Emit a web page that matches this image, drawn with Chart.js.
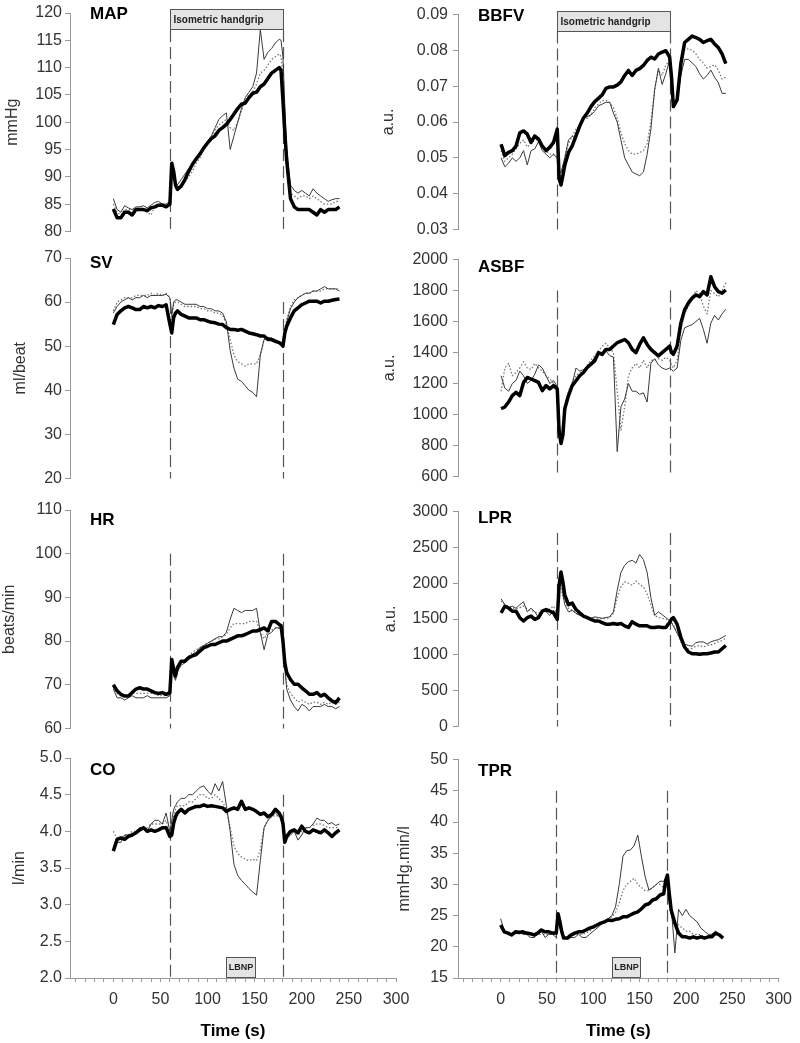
<!DOCTYPE html>
<html>
<head>
<meta charset="utf-8">
<script src="https://cdn.jsdelivr.net/npm/chart.js@4.4.1/dist/chart.umd.min.js"></script>
<style>
  html, body { margin: 0; padding: 0; background: #fff; }
  #wrap { position: relative; width: 800px; height: 1043px; overflow: hidden; }
  canvas { position: absolute; }
</style>
</head>
<body>
<div id="wrap"></div>
<script>
// time (s) of each sample
const time = [0,4,8,12,16,20,24,28,32,36,40,44,48,52,56,
  60,62,64,66,68,
  72,76,80,84,88,92,96,100,104,108,112,116,
  120,124,128,132,136,140,144,148,152,156,160,164,168,172,176,
  178,180,182,184,
  188,192,196,200,204,208,212,216,220,224,228,232,236,240];

const xLabels = [0, 50, 100, 150, 200, 250, 300];
const handgrip = [60, 180];
const lbnp = [120, 150];

// MAP (mmHg)
const mapBold = [84.1,82.5,82.5,83.5,83.5,83,84,84,84,83.8,84.3,84.5,84.8,84.8,84.5,
  85,92.5,91,88.5,87.7,
  88.3,89.5,91,92.3,93.3,94.2,95.3,96.2,97,97.5,98.5,99,
  99.6,100.5,101.5,102.5,103.3,103.5,104.5,105.3,105.5,106.5,107,108,109,109.5,110,
  109.5,104,98,93,
  86,84.5,84,84,84,84,83.5,83,84,83.5,84,84,84,84.5];
const mapThin = [86,84,83.5,84.7,84.3,84,84.5,84.5,84.7,84.3,84.8,85.3,85.5,85,85,
  85.5,92,91.5,89,88.5,
  89.5,90.5,91.5,92.5,93.5,94.5,95.5,96.5,97.5,99,100.5,101.2,
  101.7,95,97.5,100,102.5,104.5,105.5,106.5,109,117,111.5,112.8,113.5,114.5,115.2,
  115,112,103,95,
  88.5,87.5,87,87.5,87,86.5,87.8,87,86.5,86,85.5,85.8,86,86];
const mapDot = [85,83.5,83,84,84,84,84,84,84,83.5,83,84.5,85,85,84.5,
  85,91,90,88,87.5,
  88,89,90,91,92.5,93.5,95,96,97,98.5,99.5,100,
  100.5,99,98.5,100,102,104,105,105.5,107,109,109.5,110.5,111.5,112,112.5,
  112,108,100,93,
  87,86.5,86,86.5,86.5,86,86.5,86,85.5,85,85,85,85.5,85.5];

// SV (ml/beat)
const svBold = [54.9,57.2,58,58.7,59,58.7,58.3,58.3,59,58.7,59,58.7,59.2,59,59.4,
  55,53,56.5,57.5,58,
  57.2,56.8,56.4,56.4,56.4,56,56,55.7,55.4,55.3,55,54.9,
  54.2,53.8,53.8,53.6,53.8,53.4,53,52.8,52.6,52.3,52.3,51.5,51.5,51.1,50.8,
  50.5,50,53,54.5,
  56.4,58,58.7,59.4,59.8,60.2,60.2,60.2,59.8,60.2,60.2,60.4,60.6,60.7];
const svThin = [57.5,59,60,60.5,61,60.5,61,61,61.5,61,61.5,61.5,61.5,61.5,61.8,
  61,57,60,60.5,60.5,
  60,59.5,59.5,59.5,59.5,59,59,58.5,58.5,58,58,57.5,
  55.5,49,45,42.5,42,41,40,39.5,38.5,48,51.5,52,51.8,51.5,51,
  50.8,50.5,53.5,55.5,
  58.5,60,61,61.5,62,62,62.5,62.5,63,63.5,63,63,63,62.5];
const svDot = [58,60,60.5,61,61,61,61.5,61.5,61.5,61.5,62,61.5,62,61.5,62,
  61,56,59.5,60,60,
  59.5,59,59,59,59,58.5,58.5,58,58,57.5,57.5,57,
  55,51.5,48,46.5,46,45.5,46,46,46,48,51.5,52,51.8,51.3,51,
  50.8,50.5,54,56,
  59,60.5,61,61.5,62,62,62.5,62.5,62.5,63,63,63,63,63];

// HR (beats/min)
const hrBold = [70,68.6,67.8,67.4,67.4,68.2,69,69.3,69,69,68.6,68.2,68,68.2,67.8,
  68.2,75.8,73.5,72,73.9,
  75.4,75.4,76.2,76.6,76.9,77.7,78.5,78.8,79.2,79.2,79.6,80,
  80,80.4,80.8,81.2,81.2,81.5,81.9,82.3,82.3,82.6,83,82.3,84.5,84.5,83.8,
  83.5,80,75,72.8,
  71.2,70.1,70.1,69.3,68.6,67.8,67.8,68.2,67.4,67.8,67,66.3,65.9,67];
const hrThin = [69,67,67,66.5,67,67.5,67,67,67,67.5,67,67,67,67,67,
  67.5,74,72,71,73,
  74.5,75,76,77,77.5,78.5,79,79.5,80,80.5,81,81,
  82,85,87.5,87,86.5,87,87,87,87.5,82,78,81.5,82,83,83,
  82.5,81.5,74,69,
  66.5,65,64,65.5,65,64,65,65,65,65.5,65,65,64.5,65];
const hrDot = [69.5,68,67.5,67.5,67.5,68,68,68,68,68,68,68,67.5,67.5,67.5,
  67.5,74.5,72.5,71.5,73.5,
  75,75.5,76.5,77.5,78,78.5,79,79.5,80,80.5,80.5,81,
  81.5,83,84,84,84,84,84.5,84.5,84.5,82,80.5,82,82.5,83,83,
  82.5,81,74,70,
  68,67,66,66.5,66,65.5,66,66,65.5,66,65.5,66,65.5,66];

// CO (l/min)
const coBold = [3.73,3.89,3.91,3.89,3.93,3.95,3.98,4.02,4.05,4.0,4.02,4.0,4.02,4.05,4.05,
  3.93,3.95,4.11,4.2,4.25,
  4.3,4.25,4.3,4.32,4.34,4.34,4.36,4.34,4.35,4.34,4.33,4.32,
  4.27,4.3,4.32,4.3,4.41,4.3,4.32,4.3,4.27,4.23,4.25,4.2,4.23,4.3,4.25,
  4.2,4.11,3.85,3.93,
  4.0,4.02,3.98,4.07,4.0,3.98,4.02,4.0,3.98,4.02,3.98,3.93,3.98,4.02];
const coThin = [3.8,3.85,3.85,3.95,3.95,3.95,4.0,4.05,4.05,4.0,4.1,4.15,4.15,4.1,4.25,
  4.0,4.15,4.3,4.35,4.4,
  4.45,4.45,4.5,4.5,4.55,4.6,4.62,4.55,4.5,4.65,4.55,4.68,
  4.35,4.0,3.55,3.4,3.33,3.28,3.22,3.17,3.13,3.6,4.05,4.15,4.2,4.25,4.2,
  4.2,4.15,3.9,3.9,
  3.95,4.0,3.88,3.95,4.05,4.05,4.1,4.18,4.15,4.15,4.1,4.12,4.08,4.1];
const coDot = [4.0,3.9,3.9,3.95,3.95,4.0,4.0,4.05,4.05,4.05,4.1,4.1,4.1,4.1,4.15,
  4.0,4.1,4.2,4.3,4.35,
  4.35,4.35,4.4,4.4,4.45,4.5,4.5,4.45,4.45,4.5,4.45,4.4,
  4.3,4.05,3.8,3.7,3.65,3.62,3.6,3.62,3.6,3.75,4.05,4.15,4.2,4.22,4.2,
  4.2,4.12,3.9,3.92,
  3.98,4.0,3.95,4.0,4.05,4.05,4.08,4.1,4.1,4.08,4.05,4.05,4.05,4.05];

// BBFV (a.u.)
const bbfvBold = [0.0538,0.0506,0.0515,0.052,0.0533,0.057,0.0575,0.0566,0.0543,0.0561,0.0552,0.0533,0.052,0.0529,0.0543,
  0.058,0.0442,0.0424,0.045,0.0479,
  0.0515,0.0533,0.0561,0.0589,0.0611,0.0625,0.0643,0.0657,0.0666,0.0676,0.0694,0.0698,
  0.0698,0.0703,0.0712,0.073,0.0744,0.073,0.0744,0.0749,0.0758,0.0772,0.0781,0.0776,0.079,0.0795,0.0799,
  0.079,0.0781,0.0726,0.0643,
  0.0662,0.0763,0.0822,0.0831,0.084,0.0836,0.0831,0.0822,0.0827,0.0831,0.0818,0.0808,0.079,0.0763];
const bbfvThin = [0.050,0.0475,0.0485,0.050,0.049,0.050,0.052,0.048,0.052,0.0525,0.0545,0.052,0.051,0.050,0.051,
  0.050,0.046,0.046,0.048,0.050,
  0.055,0.056,0.0555,0.058,0.061,0.0615,0.062,0.063,0.0645,0.065,0.0655,0.0655,
  0.0625,0.060,0.055,0.050,0.048,0.046,0.0455,0.045,0.046,0.051,0.058,0.069,0.075,0.0705,0.0735,
  0.0755,0.077,0.071,0.065,
  0.066,0.073,0.0775,0.0775,0.0765,0.0755,0.0735,0.072,0.073,0.0745,0.0725,0.071,0.068,0.068];
const bbfvDot = [0.052,0.049,0.050,0.051,0.0525,0.054,0.055,0.053,0.054,0.055,0.055,0.053,0.052,0.051,0.051,
  0.050,0.045,0.045,0.047,0.050,
  0.054,0.056,0.058,0.059,0.061,0.061,0.062,0.064,0.065,0.066,0.066,0.0655,
  0.064,0.061,0.057,0.054,0.052,0.051,0.051,0.0515,0.052,0.054,0.060,0.069,0.0745,0.073,0.076,
  0.0765,0.077,0.070,0.064,
  0.067,0.075,0.080,0.0805,0.080,0.079,0.0775,0.0765,0.075,0.0755,0.076,0.0745,0.072,0.0725];

// ASBF (a.u.)
const asbfBold = [1037,1048,1080,1122,1143,1122,1207,1239,1229,1218,1207,1154,1186,1165,1186,
  1165,888,813,866,1037,
  1122,1186,1218,1250,1271,1303,1325,1346,1399,1388,1420,1420,
  1442,1463,1474,1484,1463,1420,1399,1452,1495,1452,1420,1399,1378,1399,1420,
  1430,1442,1400,1388,
  1442,1591,1676,1719,1751,1772,1761,1793,1772,1889,1825,1793,1783,1804];
const asbfThin = [1250,1170,1150,1200,1220,1280,1250,1200,1220,1260,1320,1300,1250,1200,1220,
  1180,950,850,900,1000,
  1120,1200,1300,1280,1290,1300,1330,1370,1390,1400,1410,1380,
  1370,760,1050,1100,1200,1150,1150,1130,1140,1080,1330,1360,1320,1300,1290,
  1295,1300,1290,1280,
  1300,1480,1560,1570,1580,1600,1620,1550,1460,1590,1640,1610,1650,1680];
const asbfDot = [1150,1300,1330,1250,1270,1300,1340,1300,1290,1330,1300,1280,1250,1230,1200,
  1170,900,830,950,1050,
  1150,1210,1250,1270,1280,1320,1350,1380,1410,1440,1460,1430,
  1400,1150,900,1050,1250,1300,1330,1300,1350,1300,1350,1350,1360,1350,1370,
  1360,1350,1320,1300,
  1350,1550,1650,1700,1750,1800,1780,1700,1650,1800,1780,1760,1800,1850];

// LPR (a.u.)
const lprBold = [1586,1678,1655,1609,1609,1518,1472,1518,1541,1495,1518,1609,1632,1609,1586,
  1495,1974,2156,2020,1837,
  1700,1723,1632,1586,1541,1518,1495,1472,1472,1450,1427,1427,
  1436,1427,1436,1404,1381,1463,1427,1404,1404,1404,1381,1381,1390,1381,1381,
  1420,1450,1500,1518,
  1427,1244,1108,1039,1016,1016,1007,1016,1016,1025,1039,1039,1085,1130];
const lprThin = [1780,1700,1650,1680,1650,1700,1740,1600,1650,1600,1520,1620,1600,1550,1620,
  1550,1900,2100,1850,1700,
  1600,1620,1580,1550,1540,1520,1510,1530,1520,1510,1520,1530,
  1600,1900,2150,2250,2300,2320,2280,2400,2330,2150,1800,1550,1600,1560,1520,
  1500,1470,1450,1400,
  1300,1200,1150,1130,1120,1170,1180,1180,1150,1180,1200,1210,1240,1270];
const lprDot = [1750,1700,1680,1660,1640,1660,1680,1640,1620,1600,1580,1600,1620,1640,1680,
  1560,2000,1950,1800,1750,
  1650,1620,1580,1550,1530,1520,1510,1520,1510,1500,1510,1520,
  1580,1800,1950,2020,2000,1970,2030,1980,1950,1850,1700,1550,1520,1510,1500,
  1490,1470,1450,1420,
  1320,1180,1100,1080,1090,1120,1130,1110,1130,1140,1160,1180,1200,1230];

// TPR (mmHg.min/l)
const tprBold = [23.5,22.4,22.2,21.9,22.4,22.3,22.4,22.2,22.1,21.9,22.2,22.7,22.4,22.4,22.2,
  22.2,25.3,24,22.4,21.4,
  21.4,21.9,22.2,22.4,22.4,22.7,23,23.2,23.5,23.8,24,24.3,
  24.2,24.4,24.5,24.8,24.8,25.1,25.4,25.6,26.1,26.7,26.9,27.5,27.7,28.3,28.5,
  30.6,31.5,28.5,25.9,
  23.8,22.2,21.6,21.6,21.4,21.6,21.4,21.6,21.4,21.6,21.6,22.2,21.9,21.4];
const tprThin = [24.5,22.5,22,22,22.5,22.5,22,22,21.5,21.5,22,22.5,21.5,22,22,
  21.5,24.5,23,22,21.5,
  21.2,21.5,21.5,22,21.5,21.5,22,22.5,23,23.5,24,24.5,
  25,26.4,30,34.5,35.4,35.5,36.2,37.9,34.4,31.2,29.1,29.5,30,30.5,30.5,
  30.5,30,27,26.5,
  19,26,25,26,25,24.5,24,23,22.5,22,22,22.5,22,21.5];
const tprDot = [23,22.5,22,22,22,22.5,22,22,22,21.5,22,22,22,22,22,
  22,24.5,23.5,22,21.5,
  21.5,21.5,22,22,22,22.2,22.5,23,23.3,23.7,24,24.5,
  24.8,25.5,27,29,30,30.5,31,30,29.5,29,29,29.5,30,30,29.5,
  29.5,29.5,27,25,
  24,23.5,23,22.5,22.5,22,22,22,21.5,21.5,21.5,22,22,21.5];

// plot-area rows (px)
const rowTop = [13, 258, 510, 758];
const rowBottom = [232, 479, 729, 978];

const panels = [
  { name: 'MAP', unit: 'mmHg', col: 0, row: 0, min: 80, max: 120, step: 5, dec: 0, series: [mapBold, mapThin, mapDot], markTop: null, titleDy: 1, titlePad: 3 },
  { name: 'SV', unit: 'ml/beat', col: 0, row: 1, min: 20, max: 70, step: 10, dec: 0, series: [svBold, svThin, svDot], markTop: 60, titleDy: 5, titlePad: 11 },
  { name: 'HR', unit: 'beats/min', col: 0, row: 2, min: 60, max: 110, step: 10, dec: 0, series: [hrBold, hrThin, hrDot], markTop: 100, titleDy: 10, titlePad: 0 },
  { name: 'CO', unit: 'l/min', col: 0, row: 3, min: 2, max: 5, step: 0.5, dec: 1, series: [coBold, coThin, coDot], markTop: 4.5, titleDy: 12, titlePad: 10 },
  { name: 'BBFV', unit: 'a.u.', col: 1, row: 0, min: 0.03, max: 0.09, step: 0.01, dec: 2, series: [bbfvBold, bbfvThin, bbfvDot], markTop: null, titleDy: 2, titlePad: 1 },
  { name: 'ASBF', unit: 'a.u.', col: 1, row: 1, min: 600, max: 2000, step: 200, dec: 0, series: [asbfBold, asbfThin, asbfDot], markTop: 1800, titleDy: 8, titlePad: 2 },
  { name: 'LPR', unit: 'a.u.', col: 1, row: 2, min: 0, max: 3000, step: 500, dec: 0, series: [lprBold, lprThin, lprDot], markTop: 2700, titleDy: 7, titlePad: 3 },
  { name: 'TPR', unit: 'mmHg.min/l', col: 1, row: 3, min: 15, max: 50, step: 5, dec: 0, series: [tprBold, tprThin, tprDot], markTop: 45, titleDy: 12, titlePad: 17 }
];

Chart.defaults.font.family = "'Liberation Sans', Arial, sans-serif";
Chart.defaults.color = '#333';

const xMinor = [];
for (let v = -40; v <= 300; v += 10) xMinor.push(v);

const wrap = document.getElementById('wrap');

panels.forEach(p => {
  const isBottom = p.row === 3;
  const left = p.col ? 378 : 0;
  const width = p.col ? 422 : 420;
  const yWidth = p.col ? 80 : 70;
  const padRight = p.col ? 18 : 24;
  const top = rowTop[p.row] - 13;
  const height = isBottom ? 1043 - top : rowBottom[p.row] - rowTop[p.row] + 25;

  const cv = document.createElement('canvas');
  cv.width = width; cv.height = height;
  cv.style.left = left + 'px'; cv.style.top = top + 'px';
  cv.style.width = width + 'px'; cv.style.height = height + 'px';
  wrap.appendChild(cv);

  const marks = {
    id: 'marks',
    beforeDatasetsDraw(chart) {
      const { ctx, chartArea: a, scales: { x, y } } = chart;
      const y0 = p.markTop === null ? a.top + 17 : y.getPixelForValue(p.markTop);
      ctx.save();
      ctx.strokeStyle = '#555';
      ctx.lineWidth = 1.2;
      ctx.setLineDash([12, 5]);
      handgrip.forEach(t => {
        const px = Math.round(x.getPixelForValue(t)) + 0.5;
        ctx.beginPath(); ctx.moveTo(px, y0); ctx.lineTo(px, a.bottom); ctx.stroke();
      });
      ctx.restore();
    },
    afterDraw(chart) {
      const { ctx, chartArea: a, scales: { x } } = chart;
      ctx.save();
      if (p.row === 0) {
        const x0 = Math.round(x.getPixelForValue(handgrip[0])) + 0.5;
        const x1 = Math.round(x.getPixelForValue(handgrip[1])) + 0.5;
        const b = Math.round(a.top) - 3.5;
        ctx.fillStyle = '#e4e4e4'; ctx.strokeStyle = '#555'; ctx.lineWidth = 1;
        ctx.fillRect(x0, b, x1 - x0, 20); ctx.strokeRect(x0, b, x1 - x0, 20);
        ctx.fillStyle = '#222'; ctx.font = "bold 10px 'Liberation Sans', Arial, sans-serif";
        ctx.textAlign = 'left'; ctx.textBaseline = 'middle';
        ctx.fillText('Isometric handgrip', x0 + 3, b + 10.5);
      }
      if (isBottom) {
        const x0 = Math.round(x.getPixelForValue(lbnp[0])) + 0.5;
        const x1 = Math.round(x.getPixelForValue(lbnp[1])) + 0.5;
        const b = Math.round(a.bottom) - 20.5;
        ctx.fillStyle = '#e4e4e4'; ctx.strokeStyle = '#555'; ctx.lineWidth = 1;
        ctx.fillRect(x0, b, x1 - x0, 20); ctx.strokeRect(x0, b, x1 - x0, 20);
        ctx.fillStyle = '#222'; ctx.font = "bold 9px 'Liberation Sans', Arial, sans-serif";
        ctx.textAlign = 'center'; ctx.textBaseline = 'middle';
        ctx.fillText('LBNP', (x0 + x1) / 2, b + 10.5);
      }
      ctx.fillStyle = '#000';
      ctx.font = "bold 17px 'Liberation Sans', Arial, sans-serif";
      ctx.textAlign = 'left'; ctx.textBaseline = 'middle';
      ctx.fillText(p.name, a.left + 20, a.top + p.titleDy);
      ctx.restore();
    }
  };

  new Chart(cv, {
    type: 'line',
    data: {
      datasets: [
        { data: p.series[0].map((v, i) => ({ x: time[i], y: v })), borderColor: '#000', borderWidth: 3.5 },
        { data: p.series[1].map((v, i) => ({ x: time[i], y: v })), borderColor: '#3a3a3a', borderWidth: 1 },
        { data: p.series[2].map((v, i) => ({ x: time[i], y: v })), borderColor: '#777', borderWidth: 1.3, borderDash: [1.5, 2] }
      ]
    },
    options: {
      responsive: false,
      animation: false,
      events: [],
      layout: { padding: { top: 13, bottom: isBottom ? 0 : 12, left: 0, right: padRight } },
      elements: { point: { radius: 0 }, line: { tension: 0, borderJoinStyle: 'round' } },
      plugins: { legend: { display: false }, tooltip: { enabled: false } },
      scales: {
        x: {
          type: 'linear', min: -46, max: 300, display: isBottom,
          afterBuildTicks: s => { s.ticks = xMinor.map(v => ({ value: v })); },
          afterFit: s => { if (isBottom) s.height = 65; },
          ticks: {
            autoSkip: false, maxRotation: 0, padding: 8, color: '#333', font: { size: 16 },
            callback: v => xLabels.includes(v) ? String(v) : ''
          },
          grid: { drawOnChartArea: false, drawTicks: true, tickLength: 4, color: '#999' },
          border: { display: true, color: '#999' },
          title: { display: true, text: 'Time (s)', color: '#000', font: { size: 17, weight: 'bold' }, padding: { top: 0, bottom: 1 } }
        },
        y: {
          min: p.min, max: p.max,
          afterFit: s => { s.width = yWidth; },
          ticks: { stepSize: p.step, padding: p.col ? 5 : 3, color: '#333', font: { size: 16 }, callback: v => Number(v).toFixed(p.dec) },
          grid: { drawOnChartArea: false, drawTicks: true, tickLength: 5, color: '#999' },
          border: { display: true, color: '#999' },
          title: { display: true, text: p.unit, color: '#333', font: { size: 16 }, padding: { top: p.titlePad, bottom: 0 } }
        }
      }
    },
    plugins: [marks]
  });
});
</script>
</body>
</html>
